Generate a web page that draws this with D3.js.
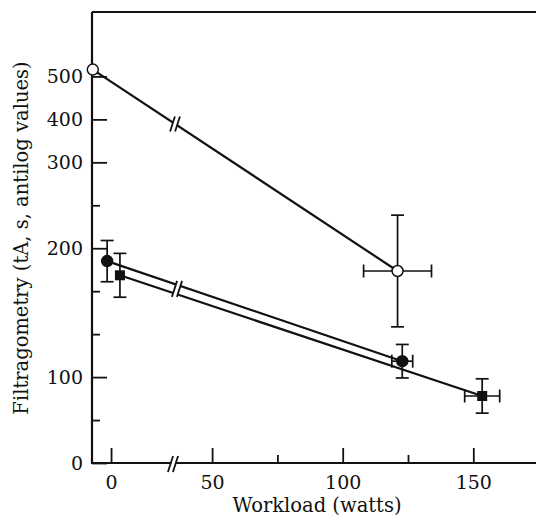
<!DOCTYPE html>
<html lang="en">
<head>
    <meta charset="UTF-8">
    <title>Filtragometry vs Workload</title>
    <script src="https://d3js.org/d3.v7.min.js"></script>
    <style>
        body { margin: 0; background: #fff; }
        svg { display: block; }
        text { font-family: "DejaVu Serif", serif; fill: #111; }
    </style>
</head>
<body>
    <svg></svg>
    <script>
        // Data (y values are log10 of filtragometry time, s)
        const openX = [-7, 121];
        const openY = [2.716, 2.247];
        const openYErr = [0, 0.13];
        const openXErr = [0, 13];

        const circleX = [-1.5, 122.8];
        const circleY = [2.270, 2.037];
        const circleYErr = [0.048, 0.039];
        const circleXErr = [0, 4];

        const squareX = [3.4, 153.4];
        const squareY = [2.237, 1.956];
        const squareYErr = [0.051, 0.04];
        const squareXErr = [0, 6.7];

        // Axis ticks
        const yMajorTicks = [1.8, 2.0, 2.3, 2.5, 2.6, 2.7];
        const yTickLabels = ["0", "100", "200", "300", "400", "500"];
        const yMinorTicks = [1.9, 2.1, 2.2, 2.4];
        const xMajorTicks = [0, 50, 100, 150];
        const xMinorTicks = [75, 125];

        const width = 536, height = 521;
        const svg = d3.select("svg").attr("width", width).attr("height", height);

        const plotLeft = 92, plotTop = 12, plotBottom = 463, plotRight = 536;
        const breakPx = 175;

        // Broken x scale: left piece holds the rest values, right piece the exercise values
        const x = d3.scaleLinear()
            .domain([-7.3, 24.5, 35.8, 174])
            .range([plotLeft, breakPx, breakPx, plotRight]);
        const y = d3.scaleLinear().domain([1.8, 2.85]).range([plotBottom, plotTop]);

        // Frame lines
        const frame = svg.append("g").attr("stroke", "#111").attr("stroke-width", 2.2).attr("fill", "none");
        frame.append("line").attr("x1", plotLeft).attr("x2", plotLeft).attr("y1", plotBottom + 1).attr("y2", plotTop);
        frame.append("line").attr("x1", plotLeft).attr("x2", plotRight).attr("y1", plotTop).attr("y2", plotTop);
        frame.append("line").attr("x1", plotLeft).attr("x2", breakPx - 4).attr("y1", plotBottom).attr("y2", plotBottom);
        frame.append("line").attr("x1", breakPx + 1).attr("x2", plotRight).attr("y1", plotBottom).attr("y2", plotBottom);

        // Y axis ticks (inward)
        svg.append("g").attr("transform", `translate(${plotLeft},0)`)
            .call(d3.axisLeft(y).tickValues(yMajorTicks)
                .tickFormat((d, i) => yTickLabels[i]).tickSize(-15).tickPadding(9));
        svg.append("g").attr("transform", `translate(${plotLeft},0)`)
            .call(d3.axisLeft(y).tickValues(yMinorTicks).tickFormat("").tickSize(-8));

        // X axis ticks (inward)
        svg.append("g").attr("transform", `translate(0,${plotBottom})`)
            .call(d3.axisBottom(x).tickValues(xMajorTicks).tickSize(-15).tickPadding(13));
        svg.append("g").attr("transform", `translate(0,${plotBottom})`)
            .call(d3.axisBottom(x).tickValues(xMinorTicks).tickFormat("").tickSize(-8));

        svg.selectAll(".domain").remove();
        svg.selectAll(".tick line").attr("stroke", "#111").attr("stroke-width", 1.8);
        svg.selectAll(".tick text").style("font-size", "19px").attr("fill", "#111");

        // Axis titles
        svg.append("text")
            .attr("x", 317).attr("y", 512)
            .attr("text-anchor", "middle")
            .style("font-size", "19.5px")
            .text("Workload (watts)");
        svg.append("text")
            .attr("transform", "translate(28,238) rotate(-90)")
            .attr("text-anchor", "middle")
            .style("font-size", "19.5px")
            .text("Filtragometry (tA, s, antilog values)");

        // Connecting lines
        const series = [
            { xs: openX, ys: openY, ye: openYErr, xe: openXErr, shape: "open" },
            { xs: circleX, ys: circleY, ye: circleYErr, xe: circleXErr, shape: "circle" },
            { xs: squareX, ys: squareY, ye: squareYErr, xe: squareXErr, shape: "square" }
        ];

        const lineG = svg.append("g").attr("stroke", "#111").attr("stroke-width", 2.2);
        series.forEach(s => {
            lineG.append("line")
                .attr("x1", x(s.xs[0])).attr("y1", y(s.ys[0]))
                .attr("x2", x(s.xs[1])).attr("y2", y(s.ys[1]));
        });

        // y of a series line at the break position
        function yAtBreak(s) {
            const x0 = x(s.xs[0]), x1 = x(s.xs[1]);
            const y0 = y(s.ys[0]), y1 = y(s.ys[1]);
            return y0 + (y1 - y0) * (breakPx - x0) / (x1 - x0);
        }

        // Break marks "//"
        function breakMark(cx, cy, h) {
            const dx = h * 0.32, gap = 5;
            svg.append("polygon")
                .attr("points", [
                    [cx - gap / 2 - dx, cy + h], [cx - gap / 2 + dx, cy - h],
                    [cx + gap / 2 + dx, cy - h], [cx + gap / 2 - dx, cy + h]
                ].join(" "))
                .attr("fill", "#fff");
            [-gap / 2, gap / 2].forEach(o => {
                svg.append("line")
                    .attr("x1", cx + o - dx).attr("y1", cy + h)
                    .attr("x2", cx + o + dx).attr("y2", cy - h)
                    .attr("stroke", "#111").attr("stroke-width", 1.8);
            });
        }
        breakMark(breakPx, yAtBreak(series[0]), 7.5);
        breakMark(breakPx + 2, (yAtBreak(series[1]) + yAtBreak(series[2])) / 2, 8);
        breakMark(breakPx - 2, plotBottom + 1, 8);

        // Error bars
        const errG = svg.append("g").attr("stroke", "#111").attr("stroke-width", 1.7);
        const cap = 6.5;
        series.forEach(s => {
            s.xs.forEach((xv, i) => {
                const px = x(xv), py = y(s.ys[i]);
                if (s.ye[i] > 0) {
                    const yt = y(s.ys[i] + s.ye[i]), yb = y(s.ys[i] - s.ye[i]);
                    errG.append("line").attr("x1", px).attr("x2", px).attr("y1", yt).attr("y2", yb);
                    errG.append("line").attr("x1", px - cap).attr("x2", px + cap).attr("y1", yt).attr("y2", yt);
                    errG.append("line").attr("x1", px - cap).attr("x2", px + cap).attr("y1", yb).attr("y2", yb);
                }
                if (s.xe[i] > 0) {
                    const xl = x(xv - s.xe[i]), xr = x(xv + s.xe[i]);
                    errG.append("line").attr("x1", xl).attr("x2", xr).attr("y1", py).attr("y2", py);
                    errG.append("line").attr("x1", xl).attr("x2", xl).attr("y1", py - cap).attr("y2", py + cap);
                    errG.append("line").attr("x1", xr).attr("x2", xr).attr("y1", py - cap).attr("y2", py + cap);
                }
            });
        });

        // Markers
        series.forEach(s => {
            s.xs.forEach((xv, i) => {
                const px = x(xv), py = y(s.ys[i]);
                if (s.shape === "square") {
                    svg.append("rect")
                        .attr("x", px - 5).attr("y", py - 5)
                        .attr("width", 10).attr("height", 10)
                        .attr("fill", "#111");
                } else {
                    svg.append("circle")
                        .attr("cx", px).attr("cy", py).attr("r", 5.5)
                        .attr("fill", s.shape === "open" ? "#fff" : "#111")
                        .attr("stroke", "#111").attr("stroke-width", 1.5);
                }
            });
        });
    </script>
</body>
</html>
